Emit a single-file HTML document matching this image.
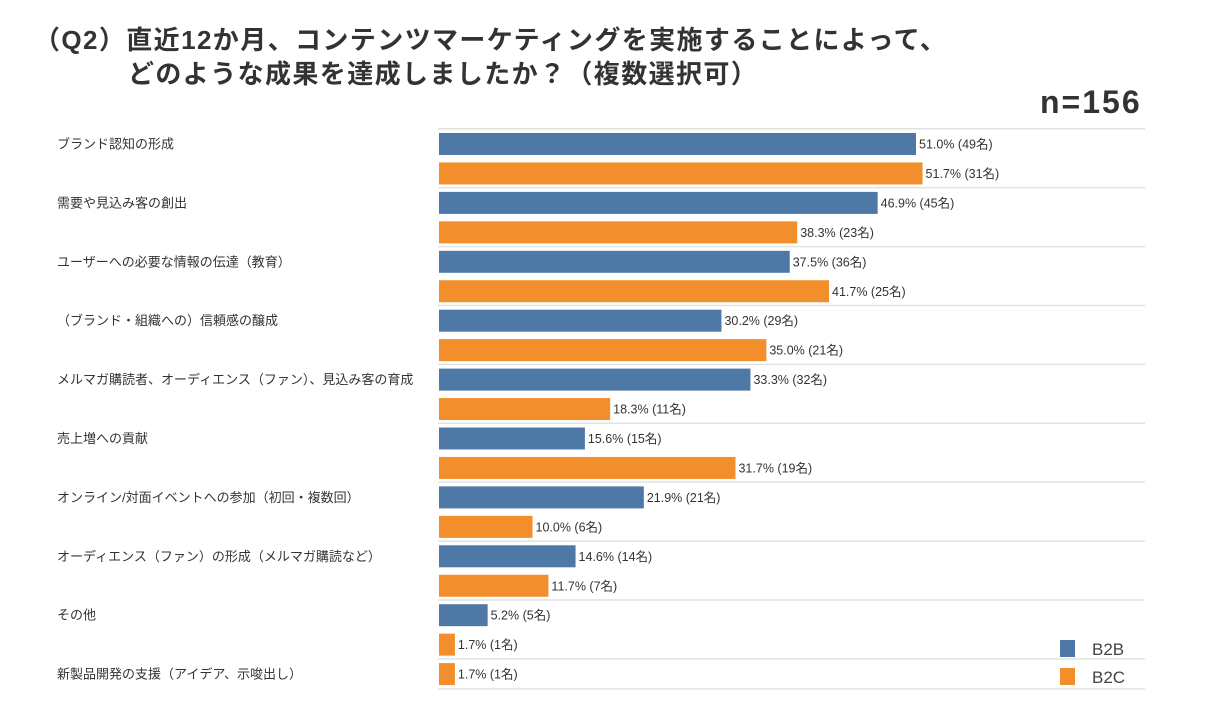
<!DOCTYPE html>
<html><head><meta charset="utf-8">
<style>
body{margin:0;width:1217px;height:715px;background:#fff;overflow:hidden;font-family:"Liberation Sans","Noto Sans CJK JP",sans-serif;color:#333}
.t{position:absolute;font-size:26px;font-weight:bold;white-space:nowrap;color:#333;letter-spacing:1.4px}
</style></head><body>
<div class="t" style="left:34px;top:20px">（Q2）直近12か月、コンテンツマーケティングを実施することによって、</div>
<div class="t" style="left:128px;top:54px">どのような成果を達成しましたか？（複数選択可）</div>
<div class="t" style="left:1040px;top:84px;font-size:32px;letter-spacing:2px">n=156</div>
<svg id="chart" width="1217" height="715" style="position:absolute;left:0;top:0"></svg>
<script>
const categories=["ブランド認知の形成","需要や見込み客の創出","ユーザーへの必要な情報の伝達（教育）","（ブランド・組織への）信頼感の醸成","メルマガ購読者、オーディエンス（ファン）、見込み客の育成","売上増への貢献","オンライン/対面イベントへの参加（初回・複数回）","オーディエンス（ファン）の形成（メルマガ購読など）","その他","新製品開発の支援（アイデア、示唆出し）"];
const b2bValues=[51.0,46.9,37.5,30.2,33.3,15.6,21.9,14.6,5.2,null];
const b2bCounts=[49,45,36,29,32,15,21,14,5,null];
const b2cValues=[51.7,38.3,41.7,35.0,18.3,31.7,10.0,11.7,1.7,1.7];
const b2cCounts=[31,23,25,21,11,19,6,7,1,1];
const NS="http://www.w3.org/2000/svg";
const svg=document.getElementById('chart');
const x0=439, pxPer=9.353;
const xScale=v=>x0+v*pxPer;
const rowStep=29.45, top0=144, barH=22;
function mk(t,a){const e=document.createElementNS(NS,t);for(const k in a)e.setAttribute(k,a[k]);svg.appendChild(e);return e;}
let row=0;
const rows=[];
categories.forEach((c,i)=>{
  const start=row;
  if(b2bValues[i]!=null){rows.push({i,s:'b2b',r:row});row++;}
  rows.push({i,s:'b2c',r:row});row++;
  const yc=top0+start*rowStep;
  const lab=mk('text',{x:57,y:yc+4.5,'font-size':13,fill:'#333'});
  lab.textContent=c;
  
  
  const ly=top0+(start-0.5)*rowStep-0.5;
  const ln=mk('line',{x1:438,x2:1145,y1:ly,y2:ly,stroke:'#e2e2e2','stroke-width':1.5});
  
  
});
const lastY=top0+(row-0.5)*rowStep;
const ln2=mk('line',{x1:438,x2:1145,y1:lastY,y2:lastY,stroke:'#e2e2e2','stroke-width':1.5});


rows.forEach(o=>{
  const v=o.s==='b2b'?b2bValues[o.i]:b2cValues[o.i];
  const n=o.s==='b2b'?b2bCounts[o.i]:b2cCounts[o.i];
  const yc=top0+o.r*rowStep;
  const b=mk('rect',{x:x0,y:yc-barH/2,width:xScale(v)-x0,height:barH,fill:o.s==='b2b'?'#4e78a6':'#f28e2c'});
  
  
  const t=mk('text',{x:xScale(v)+3,y:yc+4.5,'font-size':12.5,fill:'#333'});
  t.textContent=v.toFixed(1)+'% ('+n+'名)';
  
  
});
[['B2B','#4e78a6',640],['B2C','#f28e2c',668]].forEach(([n,c,y])=>{
  const r=mk('rect',{x:1060,y:y,width:15,height:17,fill:c});
  
  
  const t=mk('text',{x:1092,y:y+15,'font-size':17,fill:'#444'});
  t.textContent=n;
  
  
});
</script>
</body></html>
